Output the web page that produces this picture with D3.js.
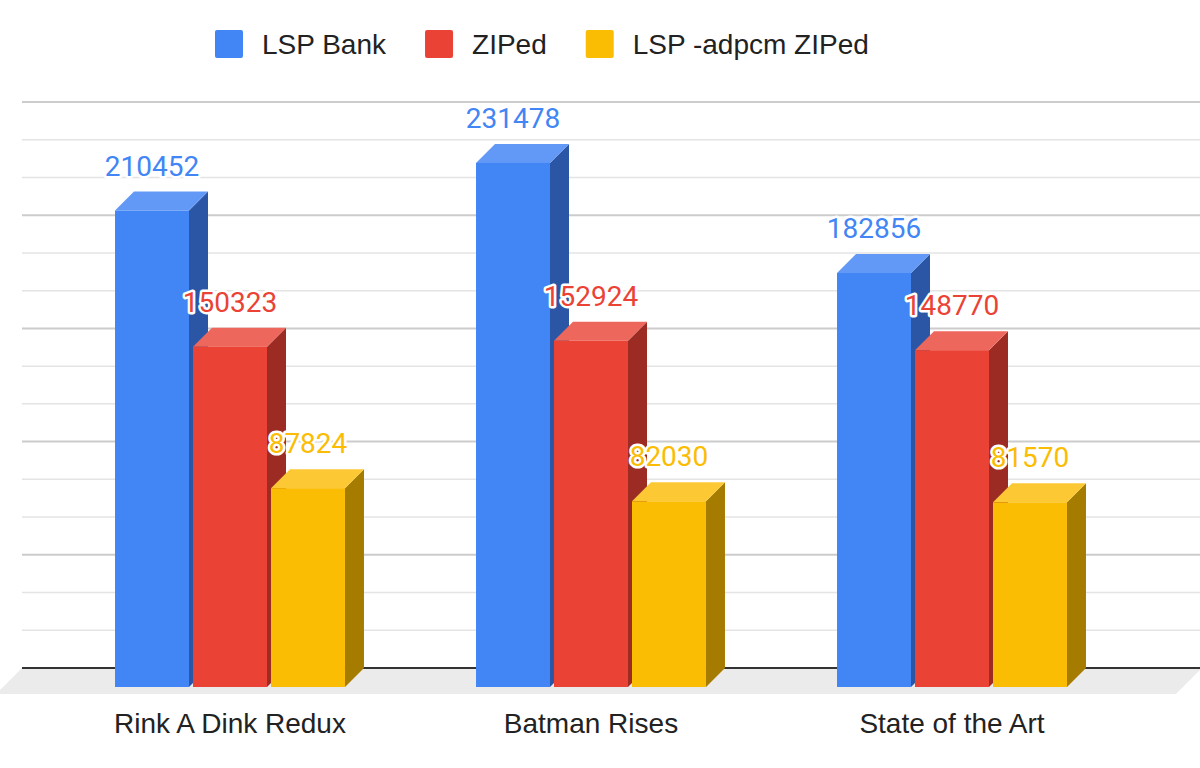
<!DOCTYPE html>
<html lang="en">
<head>
  <meta charset="UTF-8">
  <title>LSP Bank vs ZIPed</title>
  <script src="https://d3js.org/d3.v7.min.js"></script>
  <style>
    body { margin: 0; background: #fff; }
    svg { display: block; }
    .legend text, .cat-label { font-family: "Liberation Sans", Arial, sans-serif; font-size: 28px; fill: #222; }
    .value-label { font-family: Roboto, sans-serif; font-size: 28px; stroke: #fff; stroke-width: 5px; stroke-linejoin: round; paint-order: stroke; }
  </style>
</head>
<body>
  <svg id="chart" width="1200" height="768"></svg>
  <script>
    // data
    const categories = ["Rink A Dink Redux", "Batman Rises", "State of the Art"];
    const seriesNames = ["LSP Bank", "ZIPed", "LSP -adpcm ZIPed"];
    const lspBank = [210452, 231478, 182856];
    const ziped = [150323, 152924, 148770];
    const adpcmZiped = [87824, 82030, 81570];
    const yMax = 250000;
    const majorStep = 50000;
    const minorPerMajor = 3;

    const colors = {
      "LSP Bank": { front: "#4285f4", side: "#2b56a6", top: "#6299f6" },
      "ZIPed": { front: "#ea4335", side: "#9b2b23", top: "#ee675c" },
      "LSP -adpcm ZIPed": { front: "#fbbc04", side: "#a67c00", top: "#fcc934" }
    };

    const rows = categories.map((c, i) => ({
      cat: c,
      vals: [lspBank[i], ziped[i], adpcmZiped[i]]
    }));

    const svg = d3.select("#chart");
    const depth = 19;          // 3d offset of the back plane
    const wallLeft = 22, wallRight = 1202;
    const floorDepth = 26;

    // y scale lives on the back wall
    const y = d3.scaleLinear().domain([0, yMax]).range([668, 102]);

    // x scales live on the front plane
    const x0 = d3.scaleBand().domain(categories).range([49.5, 1132.5])
      .paddingInner(0.363).paddingOuter(0.1815);
    const x1 = d3.scaleBand().domain(seriesNames).range([0, x0.bandwidth()]).paddingInner(4 / 78);

    // gridlines
    const minorStep = majorStep / minorPerMajor;
    const grid = d3.range(1, Math.round(yMax / minorStep) + 1).map(i => ({ v: i * minorStep, major: i % minorPerMajor === 0 }));
    svg.append("g").selectAll("line")
      .data(grid)
      .join("line")
      .attr("x1", wallLeft).attr("x2", 1200)
      .attr("y1", d => y(d.v)).attr("y2", d => y(d.v))
      .attr("stroke", d => d.major ? "#cccccc" : "#e4e4e4")
      .attr("stroke-width", d => d.major ? 2 : 1.5);

    // floor
    const yb = y(0);
    svg.append("path")
      .attr("d", `M${wallLeft},${yb} L${wallRight},${yb} L${wallRight - floorDepth},${yb + floorDepth} L${wallLeft - floorDepth},${yb + floorDepth} Z`)
      .attr("fill", "#ebebeb");
    svg.append("line")
      .attr("x1", wallLeft).attr("x2", 1200)
      .attr("y1", yb).attr("y2", yb)
      .attr("stroke", "#333").attr("stroke-width", 2);

    // bars, drawn left to right so the next front covers the previous side
    const bars = [];
    rows.forEach(r => {
      seriesNames.forEach((s, j) => {
        const xl = x0(r.cat) + x1(s);
        const w = x1.bandwidth();
        const yt = y(r.vals[j]) + depth;   // front top
        const yf = yb + depth;              // front bottom
        bars.push({ s, v: r.vals[j], xl, w, yt, yf });
      });
    });

    const barG = svg.append("g").selectAll("g").data(bars).join("g");
    barG.append("path")
      .attr("d", d => `M${d.xl + d.w},${d.yt} L${d.xl + d.w + depth},${d.yt - depth} L${d.xl + d.w + depth},${d.yf - depth} L${d.xl + d.w},${d.yf} Z`)
      .attr("fill", d => colors[d.s].side);
    barG.append("path")
      .attr("d", d => `M${d.xl},${d.yt} L${d.xl + depth},${d.yt - depth} L${d.xl + d.w + depth},${d.yt - depth} L${d.xl + d.w},${d.yt} Z`)
      .attr("fill", d => colors[d.s].top);
    barG.append("rect")
      .attr("x", d => d.xl).attr("y", d => d.yt)
      .attr("width", d => d.w).attr("height", d => d.yf - d.yt)
      .attr("fill", d => colors[d.s].front);

    // value labels on top of everything
    svg.append("g").selectAll("text")
      .data(bars)
      .join("text")
      .attr("class", "value-label")
      .attr("x", d => d.xl + d.w / 2)
      .attr("y", d => d.yt - depth - 16)
      .attr("text-anchor", "middle")
      .attr("fill", d => colors[d.s].front)
      .text(d => d.v);

    // category labels
    svg.append("g").selectAll("text")
      .data(categories)
      .join("text")
      .attr("class", "cat-label")
      .attr("x", d => x0(d) + x0.bandwidth() / 2)
      .attr("y", 733)
      .attr("text-anchor", "middle")
      .text(d => d);

    // legend
    const legend = svg.append("g").attr("class", "legend");
    let lx = 215;
    seriesNames.forEach(s => {
      legend.append("rect")
        .attr("x", lx).attr("y", 30).attr("width", 28).attr("height", 28)
        .attr("rx", 2).attr("fill", colors[s].front);
      const t = legend.append("text")
        .attr("x", lx + 47).attr("y", 54)
        .text(s);
      lx += 47 + t.node().getComputedTextLength() + 39;
    });
  </script>
</body>
</html>
